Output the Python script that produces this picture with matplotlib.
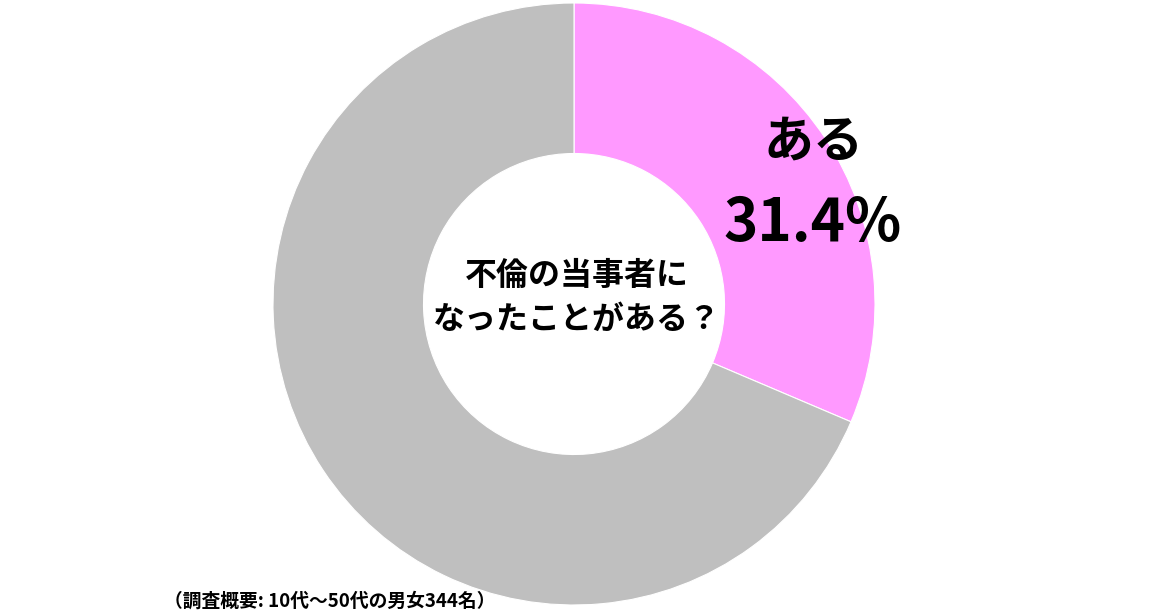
import matplotlib
matplotlib.use('Agg')
import matplotlib.pyplot as plt

plt.rcParams['font.family'] = ['Noto Sans CJK JP', 'DejaVu Sans']

# Data
labels = ['ある', 'ない']
values = [31.4, 68.6]
colors = ['#FF99FF', '#BFBFBF']
question = '不倫の当事者に\nなったことがある？'
note = '（調査概要: 10代～50代の男女344名）'

W, H = 1167, 615
fig = plt.figure(figsize=(W / 100, H / 100), dpi=100)
ax = fig.add_axes([0, 0, 1, 1])

cx, cy, r = 574, 311, 301
ax.pie(values, colors=colors, startangle=90, counterclock=False,
       center=(cx, cy), radius=r, frame=True,
       wedgeprops=dict(width=r * 0.5, edgecolor='white', linewidth=0.8))
ax.set_xlim(0, W)
ax.set_ylim(0, H)
ax.axis('off')

# label for the first slice
ax.text(813, H - 142, labels[0], fontsize=36, fontweight='bold',
        ha='center', va='center')
ax.text(813, H - 224, f'{values[0]}%', fontsize=42, fontweight='bold',
        ha='center', va='center')

ax.text(577, H - 298, question, fontsize=23, fontweight='bold',
        ha='center', va='center', linespacing=1.45)

ax.text(164, H - 601, note, fontsize=13.5, fontweight='bold',
        ha='left', va='center')

fig.savefig('out.png', dpi=100)
